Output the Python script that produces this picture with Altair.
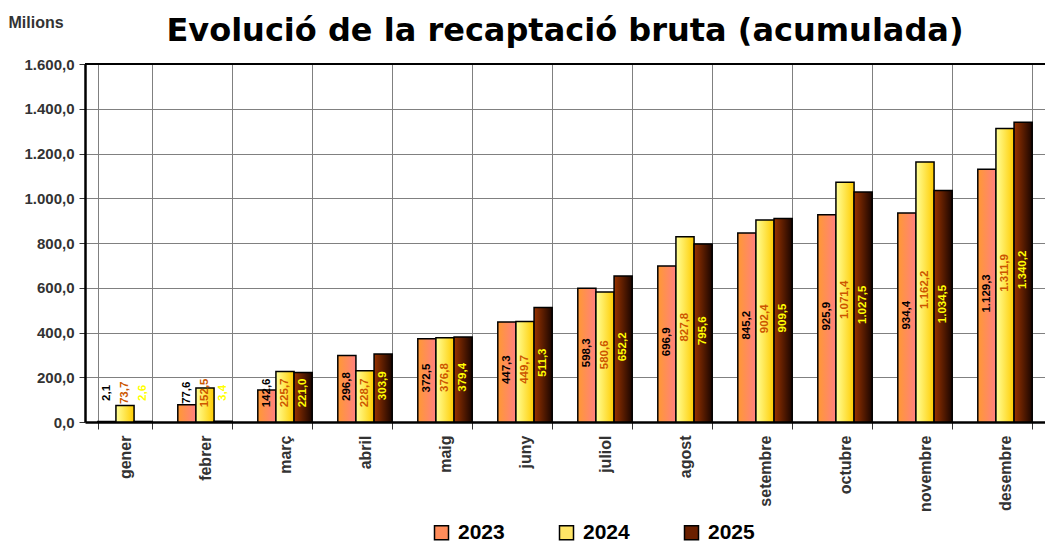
import altair as alt
import pandas as pd

months = ["gener", "febrer", "març", "abril", "maig", "juny", "juliol",
          "agost", "setembre", "octubre", "novembre", "desembre"]
years = ["2023", "2024", "2025"]
v2023 = [2.1, 77.6, 142.6, 296.8, 372.5, 447.3, 598.3, 696.9, 845.2, 925.9, 934.4, 1129.3]
v2024 = [73.7, 152.5, 225.7, 228.7, 376.8, 449.7, 580.6, 827.8, 902.4, 1071.4, 1162.2, 1311.9]
v2025 = [2.6, 3.4, 221.0, 303.9, 379.4, 511.3, 652.2, 795.6, 909.5, 1027.5, 1034.5, 1340.2]
y_ticks = [0, 200, 400, 600, 800, 1000, 1200, 1400, 1600]


def fmt(v):
    s = f"{v:,.1f}"
    return s.replace(",", "#").replace(".", ",").replace("#", ".")


rows = []
for yr, vals in zip(years, [v2023, v2024, v2025]):
    for m, v in zip(months, vals):
        rows.append({"month": m, "year": yr, "value": v, "label": fmt(v)})
df = pd.DataFrame(rows)

SANS = "'Liberation Sans', Arial, sans-serif"

def grad(c0, c1):
    return alt.Gradient(gradient="linear",
                        stops=[alt.GradientStop(color=c0, offset=0),
                               alt.GradientStop(color=c1, offset=1)],
                        x1=0, x2=1, y1=0, y2=0)

fills = {"2023": grad("#FF9933", "#FF8080"),
         "2024": grad("#FFFF99", "#FFCC00"),
         "2025": grad("#993300", "#1A0500")}
label_colors = {"2023": "#000000", "2024": "#CC5500", "2025": "#FFFF00"}
legend_colors = ["#FF8C5A", "#FFE566", "#6B2000"]

x_enc = alt.X("month:N", sort=months, title=None,
              scale=alt.Scale(paddingInner=0.32, paddingOuter=0.16),
              axis=alt.Axis(tickBand="extent", labelAngle=270, labelFont=SANS,
                            labelFontSize=16, labelFontWeight="bold", labelColor="#333333",
                            labelPadding=6, tickSize=7, tickColor="#333333",
                            domainColor="#000000", domainWidth=2.5,
                            grid=True, gridColor="#808080", gridWidth=1))
xo_enc = alt.XOffset("year:N", sort=years,
                     scale=alt.Scale(domain=years, paddingInner=0, paddingOuter=0))
y_axis = alt.Axis(values=y_ticks, title="Milions", titleAngle=0, titleAlign="left",
                  titleBaseline="middle", titleX=-77, titleY=-42, titleFont=SANS,
                  titleFontSize=16, titleFontWeight="bold", titleColor="#333333",
                  labelExpr="replace(replace(replace(format(datum.value, ',.1f'), '.', '#'), ',', '.'), '#', ',')",
                  labelFont=SANS, labelFontSize=15, labelFontWeight="bold",
                  labelColor="#333333", labelPadding=5, tickSize=6, tickColor="#333333",
                  domainColor="#000000", domainWidth=2.5,
                  grid=True, gridColor="#808080", gridWidth=1)
y_scale = alt.Scale(domain=[0, 1600], nice=False)

base = alt.Chart(df)
layers = []
for yr in years:
    layers.append(
        base.transform_filter(alt.datum.year == yr)
        .mark_bar(fill=fills[yr], stroke="black", strokeWidth=1.5)
        .encode(x=x_enc, xOffset=xo_enc,
                y=alt.Y("value:Q", scale=y_scale, axis=y_axis))
    )

legend_layer = base.mark_bar(opacity=0).encode(
    x=x_enc, xOffset=xo_enc,
    y=alt.Y("value:Q", scale=y_scale, axis=y_axis),
    color=alt.Color("year:N", scale=alt.Scale(domain=years, range=legend_colors),
                    legend=alt.Legend(title=None, orient="none", direction="horizontal",
                                      legendX=346, legendY=458, symbolType="square",
                                      symbolSize=196, symbolOpacity=1,
                                      symbolStrokeColor="black", symbolStrokeWidth=1.5,
                                      labelFont=SANS, labelFontSize=21,
                                      labelFontWeight="bold", labelColor="#000000",
                                      labelOffset=6, columnPadding=51)))
layers.append(legend_layer)

for yr in years:
    layers.append(
        base.transform_filter(alt.datum.year == yr)
        .transform_calculate(ly="max(datum.value / 2 + 10, 130)")
        .mark_text(angle=270, align="center", baseline="middle", font=SANS,
                   fontSize=11.5, fontWeight="bold", color=label_colors[yr])
        .encode(x=x_enc, xOffset=xo_enc,
                y=alt.Y("ly:Q", scale=y_scale, axis=y_axis),
                text="label:N")
    )

top_rule = alt.Chart(pd.DataFrame({"t": [1600]})).mark_rule(
    color="black", strokeWidth=2).encode(y=alt.Y("t:Q", scale=y_scale, axis=y_axis))
layers.append(top_rule)

chart = alt.layer(*layers).properties(
    width=960, height=358,
    autosize=alt.AutoSizeParams(type="none"),
    padding={"left": 77, "top": 56, "right": 0, "bottom": 126},
    title=alt.TitleParams("Evolució de la recaptació bruta (acumulada)",
                          font="'DejaVu Sans', Verdana, sans-serif", fontSize=32,
                          fontWeight="bold", color="#000000", anchor="middle",
                          baseline="alphabetic", frame="group", offset=0, dy=59),
).configure_view(stroke=None).configure(background="white")

chart.save("out.html", embed_options={"renderer": "svg", "actions": False})
